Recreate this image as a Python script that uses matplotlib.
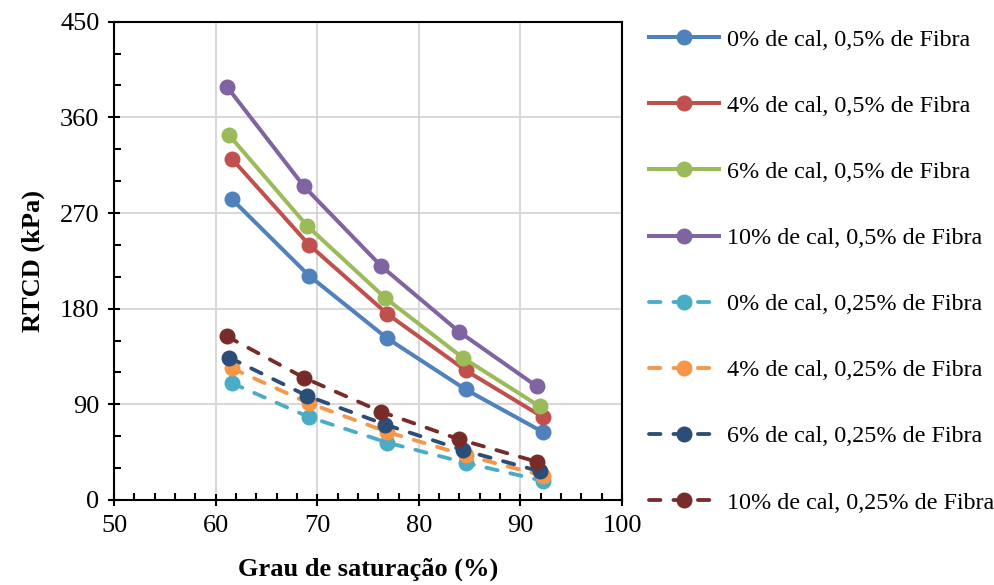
import matplotlib.pyplot as plt
from matplotlib.ticker import MultipleLocator

plt.rcParams['font.family'] = ['Liberation Serif', 'DejaVu Serif']

# grau de saturação (%) para cada série
x_cal0_f05 = [61.6, 69.2, 76.9, 84.6, 92.2]
x_cal4_f05 = [61.6, 69.2, 76.9, 84.6, 92.2]
x_cal6_f05 = [61.35, 69.0, 76.7, 84.3, 91.9]
x_cal10_f05 = [61.1, 68.7, 76.3, 84.0, 91.6]
x_cal0_f025 = [61.6, 69.2, 76.9, 84.6, 92.2]
x_cal4_f025 = [61.6, 69.2, 76.9, 84.6, 92.2]
x_cal6_f025 = [61.35, 69.0, 76.7, 84.3, 91.9]
x_cal10_f025 = [61.1, 68.7, 76.3, 84.0, 91.6]

# RTCD (kPa)
y_cal0_f05 = [283, 211, 152, 104, 64]
y_cal4_f05 = [321, 240, 175, 122, 78]
y_cal6_f05 = [343, 258, 190, 134, 88]
y_cal10_f05 = [389, 295, 220, 158, 107]
y_cal0_f025 = [110, 78, 54, 35, 18]
y_cal4_f025 = [124, 91, 64, 42, 23]
y_cal6_f025 = [134, 98, 71, 47, 27]
y_cal10_f025 = [154, 115, 83, 57, 36]

rotulos = ["0% de cal, 0,5% de Fibra", "4% de cal, 0,5% de Fibra",
           "6% de cal, 0,5% de Fibra", "10% de cal, 0,5% de Fibra",
           "0% de cal, 0,25% de Fibra", "4% de cal, 0,25% de Fibra",
           "6% de cal, 0,25% de Fibra", "10% de cal, 0,25% de Fibra"]
cores = ["#4F81BD", "#C0504D", "#9BBB59", "#8064A2",
         "#4BACC6", "#F79646", "#2C4D75", "#772C2A"]

xs = [x_cal0_f05, x_cal4_f05, x_cal6_f05, x_cal10_f05,
      x_cal0_f025, x_cal4_f025, x_cal6_f025, x_cal10_f025]
ys = [y_cal0_f05, y_cal4_f05, y_cal6_f05, y_cal10_f05,
      y_cal0_f025, y_cal4_f025, y_cal6_f025, y_cal10_f025]

fig = plt.figure(figsize=(9.95, 5.85), dpi=100)
ax = fig.add_axes([0.1146, 0.1453, 0.5106, 0.8176])

for i in range(8):
    if i < 4:
        ax.plot(xs[i], ys[i], color=cores[i], lw=2.9, marker='o', ms=10.5,
                label=rotulos[i])
    else:
        ax.plot(xs[i], ys[i], color=cores[i], lw=2.75, marker='o', ms=10.5,
                linestyle=(0, (3.0, 3.4)), dash_capstyle='round',
                label=rotulos[i])

ax.set_xlim(50, 100)
ax.set_ylim(0, 450)
ax.xaxis.set_major_locator(MultipleLocator(10))
ax.xaxis.set_minor_locator(MultipleLocator(2))
ax.yaxis.set_major_locator(MultipleLocator(90))
ax.yaxis.set_minor_locator(MultipleLocator(30))
ax.grid(True, which='major', color='#D9D9D9', lw=1.5)
ax.set_axisbelow(True)
for s in ax.spines.values():
    s.set_linewidth(1.5)
ax.tick_params(which='major', direction='inout', length=9, width=1.5,
               labelsize=19, pad=6)
ax.tick_params(which='minor', direction='in', length=5, width=1.5)

ax.set_xlabel("Grau de saturação (%)", fontsize=19, fontweight='bold', labelpad=15)
ax.set_ylabel("RTCD (kPa)", fontsize=19, fontweight='bold', labelpad=11)

ax.legend(loc='upper left', bbox_to_anchor=(0.652, 0.951),
          bbox_transform=fig.transFigure, frameon=False, fontsize=17.4,
          handlelength=2.9, handletextpad=0.33, labelspacing=1.83,
          borderaxespad=0, borderpad=0)

fig.savefig("out.png", dpi=100)
